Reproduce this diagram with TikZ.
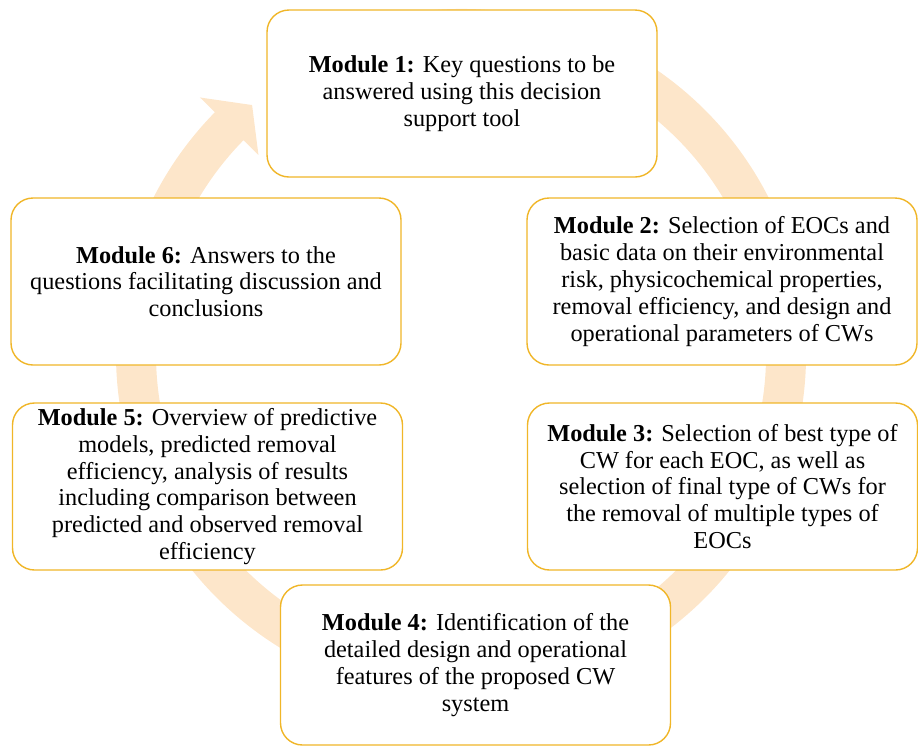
\documentclass[tikz,border=0pt]{standalone}
\usepackage{xcolor}
\usepackage{fontspec}
\setmainfont{Liberation Serif}
\usepackage{tikz}
\usetikzlibrary{calc}

\definecolor{gold}{RGB}{240,182,40}
\definecolor{peach}{RGB}{253,230,202}

\begin{document}
\begin{tikzpicture}[x=1pt,y=-1pt,
  modbox/.style={draw=gold, line width=1.4pt, fill=white, rounded corners=22pt,
    minimum width=390pt, minimum height=167pt, align=center,
    font=\fontsize{24.3}{26.8}\selectfont, inner sep=0pt}]

\useasboundingbox (0,0) rectangle (918,753);

% Define the main coordinates
\coordinate (C) at (461,354);

% Draw the cycle ring
\draw[peach, line width=40pt] (C) ++(-100:325) arc (-100:225:325);
\fill[peach] ($(C)+(224.5:284)$) -- ($(C)+(230:325)$) -- ($(C)+(224.5:366)$) -- cycle;

% Draw the modules
\node[modbox] (m1) at (462,93.5) {\textbf{Module 1:} Key questions to be\\answered using this decision\\support tool};
\node[modbox] (m2) at (722,281.5) {\textbf{Module 2:} Selection of EOCs and\\basic data on their environmental\\risk, physicochemical properties,\\removal efficiency, and design and\\operational parameters of CWs};
\node[modbox] (m3) at (722.5,486.5) {\textbf{Module 3:} Selection of best type of\\CW for each EOC, as well as\\selection of final type of CWs for\\the removal of multiple types of\\EOCs};
\node[modbox, minimum height=160pt] (m4) at (475.5,665) {\textbf{Module 4:} Identification of the\\detailed design and operational\\features of the proposed CW\\system};
\node[modbox] (m5) at (207.5,486.5) {\textbf{Module 5:} Overview of predictive\\models, predicted removal\\efficiency, analysis of results\\including comparison between\\predicted and observed removal\\efficiency};
\node[modbox] (m6) at (206,281.5) {\textbf{Module 6:} Answers to the\\questions facilitating discussion and\\conclusions};

\end{tikzpicture}
\end{document}
